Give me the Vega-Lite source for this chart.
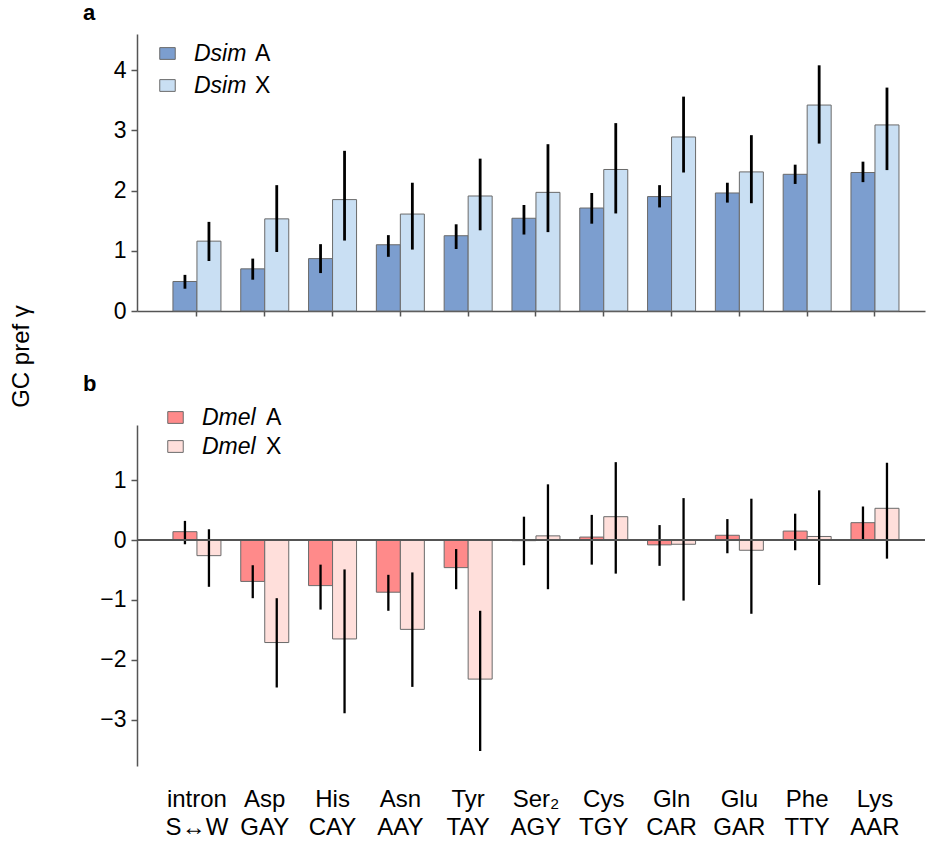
{
  "$schema": "https://vega.github.io/schema/vega-lite/v6.json",
  "autosize": {"type": "pad"},
  "padding": {"left": 9, "top": 2, "right": 1, "bottom": 5},
  "background": "white",
  "config": {
    "font": "Liberation Sans",
    "view": {"stroke": null},
    "axis": {"domainColor": "#555555", "domainWidth": 1.5, "tickColor": "#555555", "tickWidth": 1.5, "tickSize": 6, "labelColor": "black", "labelFontSize": 23, "labelFont": "Liberation Sans", "grid": false, "titleColor": "black", "titleFont": "Liberation Sans", "titleFontWeight": "normal"},
    "legend": {"labelFont": "Liberation Sans", "labelColor": "black", "labelFontSize": 23, "padding": 0}
  },
  "datasets": {
    "a": [
      {"aa": "intron|S↔W", "series": "Dsim A", "value": 0.49, "lo": 0.37, "hi": 0.60},
      {"aa": "intron|S↔W", "series": "Dsim X", "value": 1.16, "lo": 0.83, "hi": 1.48},
      {"aa": "Asp|GAY", "series": "Dsim A", "value": 0.70, "lo": 0.52, "hi": 0.87},
      {"aa": "Asp|GAY", "series": "Dsim X", "value": 1.53, "lo": 0.98, "hi": 2.09},
      {"aa": "His|CAY", "series": "Dsim A", "value": 0.87, "lo": 0.63, "hi": 1.11},
      {"aa": "His|CAY", "series": "Dsim X", "value": 1.85, "lo": 1.17, "hi": 2.66},
      {"aa": "Asn|AAY", "series": "Dsim A", "value": 1.10, "lo": 0.90, "hi": 1.26},
      {"aa": "Asn|AAY", "series": "Dsim X", "value": 1.61, "lo": 1.02, "hi": 2.13},
      {"aa": "Tyr|TAY", "series": "Dsim A", "value": 1.25, "lo": 1.03, "hi": 1.44},
      {"aa": "Tyr|TAY", "series": "Dsim X", "value": 1.91, "lo": 1.34, "hi": 2.53},
      {"aa": "Ser₂|AGY", "series": "Dsim A", "value": 1.54, "lo": 1.27, "hi": 1.76},
      {"aa": "Ser₂|AGY", "series": "Dsim X", "value": 1.97, "lo": 1.31, "hi": 2.77},
      {"aa": "Cys|TGY", "series": "Dsim A", "value": 1.71, "lo": 1.45, "hi": 1.96},
      {"aa": "Cys|TGY", "series": "Dsim X", "value": 2.35, "lo": 1.62, "hi": 3.12},
      {"aa": "Gln|CAR", "series": "Dsim A", "value": 1.90, "lo": 1.72, "hi": 2.09},
      {"aa": "Gln|CAR", "series": "Dsim X", "value": 2.89, "lo": 2.30, "hi": 3.56},
      {"aa": "Glu|GAR", "series": "Dsim A", "value": 1.96, "lo": 1.80, "hi": 2.13},
      {"aa": "Glu|GAR", "series": "Dsim X", "value": 2.31, "lo": 1.79, "hi": 2.92},
      {"aa": "Phe|TTY", "series": "Dsim A", "value": 2.27, "lo": 2.11, "hi": 2.43},
      {"aa": "Phe|TTY", "series": "Dsim X", "value": 3.42, "lo": 2.78, "hi": 4.08},
      {"aa": "Lys|AAR", "series": "Dsim A", "value": 2.30, "lo": 2.14, "hi": 2.48},
      {"aa": "Lys|AAR", "series": "Dsim X", "value": 3.09, "lo": 2.34, "hi": 3.71}
    ],
    "b": [
      {"aa": "intron|S↔W", "series": "Dmel A", "value": 0.14, "lo": -0.07, "hi": 0.32},
      {"aa": "intron|S↔W", "series": "Dmel X", "value": -0.26, "lo": -0.78, "hi": 0.18},
      {"aa": "Asp|GAY", "series": "Dmel A", "value": -0.69, "lo": -0.97, "hi": -0.42},
      {"aa": "Asp|GAY", "series": "Dmel X", "value": -1.71, "lo": -2.46, "hi": -0.97},
      {"aa": "His|CAY", "series": "Dmel A", "value": -0.76, "lo": -1.16, "hi": -0.41},
      {"aa": "His|CAY", "series": "Dmel X", "value": -1.65, "lo": -2.89, "hi": -0.49},
      {"aa": "Asn|AAY", "series": "Dmel A", "value": -0.87, "lo": -1.18, "hi": -0.58},
      {"aa": "Asn|AAY", "series": "Dmel X", "value": -1.49, "lo": -2.45, "hi": -0.54},
      {"aa": "Tyr|TAY", "series": "Dmel A", "value": -0.46, "lo": -0.82, "hi": -0.15},
      {"aa": "Tyr|TAY", "series": "Dmel X", "value": -2.32, "lo": -3.52, "hi": -1.18},
      {"aa": "Ser₂|AGY", "series": "Dmel A", "value": -0.01, "lo": -0.42, "hi": 0.39},
      {"aa": "Ser₂|AGY", "series": "Dmel X", "value": 0.07, "lo": -0.82, "hi": 0.93},
      {"aa": "Cys|TGY", "series": "Dmel A", "value": 0.05, "lo": -0.41, "hi": 0.42},
      {"aa": "Cys|TGY", "series": "Dmel X", "value": 0.39, "lo": -0.56, "hi": 1.30},
      {"aa": "Gln|CAR", "series": "Dmel A", "value": -0.08, "lo": -0.43, "hi": 0.25},
      {"aa": "Gln|CAR", "series": "Dmel X", "value": -0.07, "lo": -1.01, "hi": 0.70},
      {"aa": "Glu|GAR", "series": "Dmel A", "value": 0.08, "lo": -0.22, "hi": 0.35},
      {"aa": "Glu|GAR", "series": "Dmel X", "value": -0.17, "lo": -1.23, "hi": 0.69},
      {"aa": "Phe|TTY", "series": "Dmel A", "value": 0.15, "lo": -0.17, "hi": 0.44},
      {"aa": "Phe|TTY", "series": "Dmel X", "value": 0.06, "lo": -0.75, "hi": 0.83},
      {"aa": "Lys|AAR", "series": "Dmel A", "value": 0.29, "lo": 0.00, "hi": 0.56},
      {"aa": "Lys|AAR", "series": "Dmel X", "value": 0.53, "lo": -0.31, "hi": 1.29}
    ]
  },
  "bounds": "flush",
  "spacing": 114,
  "resolve": {
    "scale": {"x": "independent", "xOffset": "independent", "y": "independent", "fill": "independent", "stroke": "independent"},
    "legend": {"fill": "independent", "stroke": "independent"}
  },
  "vconcat": [
    {
      "width": 788,
      "height": 277,
      "data": {"name": "a"},
      "title": {"text": "a", "anchor": "start", "frame": "group", "fontSize": 22, "fontWeight": "bold", "font": "Liberation Sans", "color": "black", "dx": -54, "offset": 9},
      "layer": [
        {
          "mark": {"type": "bar", "strokeWidth": 1},
          "encoding": {
            "x": {"field": "aa", "type": "nominal", "sort": null,
                  "scale": {"type": "band", "paddingInner": 0.292, "paddingOuter": 0.457, "align": 0.58},
                  "axis": {"title": null, "labels": false, "ticks": true, "tickSize": 5, "domain": true}},
            "xOffset": {"field": "series", "type": "nominal", "scale": {"type": "band", "paddingInner": 0, "paddingOuter": 0}},
            "y": {"field": "value", "type": "quantitative", "stack": null,
                  "scale": {"domain": [0, 4.6], "nice": false, "zero": false},
                  "axis": {"values": [0, 1, 2, 3, 4], "format": "d", "title": "GC pref γ", "titleFontSize": 24, "titleX": -104, "titleY": 322, "titleAlign": "center", "titleBaseline": "bottom", "titleAngle": -90, "labelPadding": 5}},
            "fill": {"field": "series", "type": "nominal",
                     "scale": {"domain": ["Dsim A", "Dsim X"], "range": ["#7c9ecf", "#c9dff3"]},
                     "legend": {"orient": "none", "legendX": 19, "legendY": 8, "title": null, "direction": "vertical",
                                "symbolType": "M-1,-0.76H1V0.76H-1Z", "symbolSize": 240, "symbolStrokeColor": "#6a6a6a", "symbolStrokeWidth": 1,
                                "labelFontStyle": "italic", "labelExpr": "split(datum.label, ' ')[0]", "labelOffset": 15, "rowPadding": 8}},
            "stroke": {"field": "series", "type": "nominal",
                       "scale": {"range": ["#6a6a6a", "#6a6a6a"]},
                       "legend": {"orient": "none", "legendX": 95, "legendY": 8, "title": null, "direction": "vertical",
                                  "symbolSize": 0, "symbolOpacity": 0, "symbolStrokeWidth": 0, "labelOffset": 0,
                                  "labelExpr": "split(datum.label, ' ')[1]", "rowPadding": 8}}
          }
        },
        {
          "mark": {"type": "bar", "width": 2.8, "color": "black"},
          "encoding": {
            "x": {"field": "aa", "type": "nominal", "sort": null},
            "xOffset": {"field": "series", "type": "nominal"},
            "y": {"field": "lo", "type": "quantitative"},
            "y2": {"field": "hi"}
          }
        }
      ]
    },
    {
      "width": 788,
      "height": 341,
      "data": {"name": "b"},
      "title": {"text": "b", "anchor": "start", "frame": "group", "fontSize": 22, "fontWeight": "bold", "font": "Liberation Sans", "color": "black", "dx": -54, "offset": 10},
      "layer": [
        {
          "mark": {"type": "bar", "strokeWidth": 1},
          "encoding": {
            "x": {"field": "aa", "type": "nominal", "sort": null,
                  "scale": {"type": "band", "paddingInner": 0.292, "paddingOuter": 0.457, "align": 0.58},
                  "axis": {"title": null, "domain": false, "ticks": false, "labelExpr": "split(datum.label, '|')", "labelAngle": 0, "labelPadding": 21, "labelLineHeight": 28, "labelFontSize": 24}},
            "xOffset": {"field": "series", "type": "nominal", "scale": {"type": "band", "paddingInner": 0, "paddingOuter": 0}},
            "y": {"field": "value", "type": "quantitative", "stack": null,
                  "scale": {"domain": [-3.77, 1.92], "nice": false, "zero": false},
                  "axis": {"values": [-3, -2, -1, 0, 1], "format": "d", "title": null, "labelPadding": 5}},
            "fill": {"field": "series", "type": "nominal",
                     "scale": {"domain": ["Dmel A", "Dmel X"], "range": ["#ff8a8a", "#ffdfdb"]},
                     "legend": {"orient": "none", "legendX": 27, "legendY": -19, "title": null, "direction": "vertical",
                                "symbolType": "M-1,-0.76H1V0.76H-1Z", "symbolSize": 240, "symbolStrokeColor": "#6a6a6a", "symbolStrokeWidth": 1,
                                "labelFontStyle": "italic", "labelExpr": "split(datum.label, ' ')[0]", "labelOffset": 15, "rowPadding": 5}},
            "stroke": {"field": "series", "type": "nominal",
                       "scale": {"range": ["#6a6a6a", "#6a6a6a"]},
                       "legend": {"orient": "none", "legendX": 106, "legendY": -19, "title": null, "direction": "vertical",
                                  "symbolSize": 0, "symbolOpacity": 0, "symbolStrokeWidth": 0, "labelOffset": 0,
                                  "labelExpr": "split(datum.label, ' ')[1]", "rowPadding": 5}}
          }
        },
        {
          "mark": {"type": "bar", "width": 2.3, "color": "black"},
          "encoding": {
            "x": {"field": "aa", "type": "nominal", "sort": null},
            "xOffset": {"field": "series", "type": "nominal"},
            "y": {"field": "lo", "type": "quantitative"},
            "y2": {"field": "hi"}
          }
        },
        {
          "mark": {"type": "rule", "strokeWidth": 1.5, "color": "#555555"},
          "encoding": {"y": {"datum": 0, "type": "quantitative"}}
        }
      ]
    }
  ]
}
